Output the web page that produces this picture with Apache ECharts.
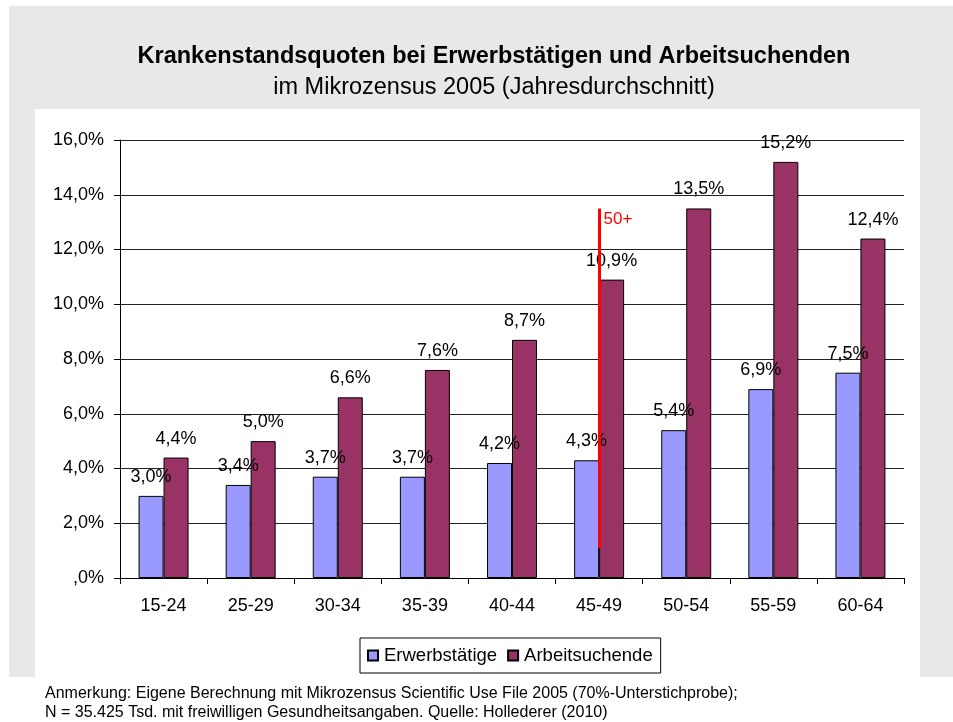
<!DOCTYPE html>
<html>
<head>
<meta charset="utf-8">
<script src="https://cdn.jsdelivr.net/npm/echarts@6/dist/echarts.min.js"></script>
<style>
  html, body { margin: 0; padding: 0; background: #fff; }
  #main { width: 953px; height: 722px; }
</style>
</head>
<body>
<div id="main"></div>
<script>
// Daten
var altersgruppen = ['15-24', '25-29', '30-34', '35-39', '40-44', '45-49', '50-54', '55-59', '60-64'];
var erwerbstaetige = [3.0, 3.4, 3.7, 3.7, 4.2, 4.3, 5.4, 6.9, 7.5];
var arbeitsuchende = [4.4, 5.0, 6.6, 7.6, 8.7, 10.9, 13.5, 15.2, 12.4];
var markierung = { kategorie: '45-49', von: 1.1, bis: 13.5, text: '50+' };

var schrift = '"Liberation Sans", Arial, sans-serif';

function prozent(v) {
    if (v === 0) return ',0%';
    return v.toFixed(1).replace('.', ',') + '%';
}

var myChart = echarts.init(document.getElementById('main'));

var option = {
    animation: false,
    backgroundColor: '#fff',
    textStyle: { fontFamily: schrift, color: '#000' },
    graphic: [
        // grauer Rahmen
        { type: 'rect', z: -10, shape: { x: 9, y: 6, width: 944, height: 671 }, style: { fill: '#e8e8e8' } },
        { type: 'rect', z: -9, shape: { x: 35, y: 109, width: 885, height: 568 }, style: { fill: '#fff' } },
        { type: 'text', x: 494, y: 57, style: { text: 'Krankenstandsquoten bei Erwerbstätigen und Arbeitsuchenden', font: 'bold 23.5px ' + schrift, fill: '#000', textAlign: 'center', textVerticalAlign: 'middle' } },
        { type: 'text', x: 494, y: 88, style: { text: 'im Mikrozensus 2005 (Jahresdurchschnitt)', font: '23.5px ' + schrift, fill: '#000', textAlign: 'center', textVerticalAlign: 'middle' } },
        { type: 'text', x: 45, y: 694, style: { text: 'Anmerkung: Eigene Berechnung mit Mikrozensus Scientific Use File 2005 (70%-Unterstichprobe);', font: '16px ' + schrift, fill: '#000', textVerticalAlign: 'middle' } },
        { type: 'text', x: 45, y: 713, style: { text: 'N = 35.425 Tsd. mit freiwilligen Gesundheitsangaben. Quelle: Hollederer (2010)', font: '16px ' + schrift, fill: '#000', textVerticalAlign: 'middle' } }
    ],
    legend: {
        left: 360,
        top: 638,
        data: ['Erwerbstätige', 'Arbeitsuchende'],
        icon: 'rect',
        itemWidth: 10,
        itemHeight: 10,
        itemGap: 10,
        padding: [8, 8, 8, 7],
        borderColor: '#000',
        borderWidth: 1,
        textStyle: { fontSize: 18.5, fontFamily: schrift, color: '#000', padding: [0, 0, 0, 1] }
    },
    grid: { left: 120, right: 49, top: 140, bottom: 144 },
    xAxis: {
        type: 'category',
        data: altersgruppen,
        axisLine: { lineStyle: { color: '#000', width: 1 } },
        axisTick: { show: true, length: 6, interval: 0, lineStyle: { color: '#000' } },
        axisLabel: { fontSize: 18, color: '#000', margin: 19, interval: 0 }
    },
    yAxis: {
        type: 'value',
        min: 0,
        max: 16,
        interval: 2,
        axisLine: { show: true, lineStyle: { color: '#000', width: 1 } },
        axisTick: { show: true, length: 6, lineStyle: { color: '#000' } },
        axisLabel: { fontSize: 18, color: '#000', margin: 16, formatter: prozent },
        splitLine: { lineStyle: { color: '#222', width: 1 } }
    },
    series: [
        {
            name: 'Erwerbstätige',
            type: 'bar',
            data: erwerbstaetige,
            barWidth: 25,
            barGap: 0,
            itemStyle: { color: '#9999ff', borderColor: '#000', borderWidth: 1 },
            label: { show: true, position: 'top', distance: 10, fontSize: 18, color: '#000', formatter: function (p) { return prozent(p.value); } }
        },
        {
            name: 'Arbeitsuchende',
            type: 'bar',
            data: arbeitsuchende,
            barWidth: 25,
            barGap: 0,
            itemStyle: { color: '#993366', borderColor: '#000', borderWidth: 1 },
            label: { show: true, position: 'top', distance: 10, fontSize: 18, color: '#000', formatter: function (p) { return prozent(p.value); } }
        },
        {
            // rote Linie "50+" in der Kategoriemitte
            name: 'Markierung',
            type: 'line',
            data: [],
            silent: true,
            z: 5,
            markLine: {
                silent: true,
                symbol: 'none',
                label: { show: false },
                lineStyle: { color: '#ff0000', width: 3, type: 'solid' },
                data: [[
                    { coord: [markierung.kategorie, markierung.von] },
                    { coord: [markierung.kategorie, markierung.bis] }
                ]]
            },
            markPoint: {
                silent: true,
                symbol: 'rect',
                symbolSize: 1,
                itemStyle: { color: 'rgba(0,0,0,0)' },
                label: { show: true, position: 'right', distance: 4, color: '#ff0000', fontSize: 17, formatter: markierung.text },
                data: [{ coord: [markierung.kategorie, 13.1] }]
            }
        }
    ]
};

myChart.setOption(option);
</script>
</body>
</html>
